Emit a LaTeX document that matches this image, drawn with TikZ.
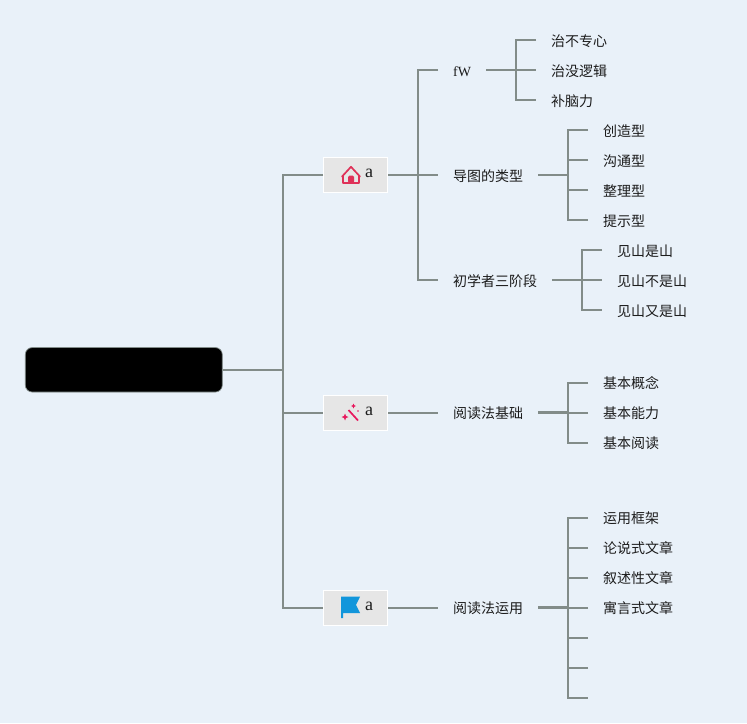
\documentclass[tikz,border=0pt]{standalone}
\usepackage{fontspec}
\setmainfont{Liberation Serif}
\newfontfamily\cjkfont{Noto Sans CJK SC}[Scale=1]
\definecolor{bgc}{HTML}{E9F1F9}
\definecolor{linec}{HTML}{828C89}
\definecolor{boxc}{HTML}{E6E6E6}
\definecolor{inkc}{HTML}{1C1C1C}
\definecolor{housec}{HTML}{DF3158}
\definecolor{wandc}{HTML}{E8175D}
\definecolor{flagc}{HTML}{1296DB}
\tikzset{
  conn/.style={draw=linec,line width=2pt},
  rootbox/.style={draw=linec,line width=0.7pt,fill=black,rounded corners=7pt,minimum width=197pt,minimum height=44.5pt,inner sep=0pt},
  branchbox/.style={draw=white,line width=1pt,fill=boxc,minimum width=64pt,minimum height=35pt,inner sep=0pt},
  lbl/.style={anchor=west,inner xsep=15pt,inner ysep=0pt,text=inkc,font=\cjkfont\fontsize{14pt}{14pt}\selectfont,text height=12pt,text depth=0pt},
  latin/.style={lbl,font=\rmfamily\fontsize{14pt}{14pt}\selectfont},
  alabel/.style={inner sep=0pt,text=inkc,font=\rmfamily\fontsize{18pt}{18pt}\selectfont},
}
\begin{document}
\begin{tikzpicture}[x=1pt,y=-1pt]
\useasboundingbox[fill=bgc] (0,0) rectangle (747,723);
% nodes
\node[rootbox] (root) at (123.8,369.8) {};
\node[branchbox] (b1) at (355.5,175) {};
\node[branchbox] (b2) at (355.5,412.5) {};
\node[branchbox] (b3) at (355.5,607.5) {};
\node[alabel] (a1) at (369,173) {a};
\node[alabel] (a2) at (369,411.5) {a};
\node[alabel] (a3) at (369,606.5) {a};
\coordinate (spine) at (283,369.8);
\coordinate (bus1) at (418,175);
\node[latin] (fw) at (438,70) {fW};
\node[lbl] (types) at (438,175) {导图的类型};
\node[lbl] (stages) at (438,280) {初学者三阶段};
\node[lbl] (basic) at (438,412.5) {阅读法基础};
\node[lbl] (use) at (438,607.5) {阅读法运用};
\coordinate (busa) at (516,70);
\coordinate (busb) at (568,175);
\coordinate (busc) at (582,280);
\coordinate (busd) at (568,412.5);
\coordinate (buse) at (568,607.5);
\node[lbl] (a1x) at (536,40) {治不专心};
\node[lbl] (a2x) at (536,70) {治没逻辑};
\node[lbl] (a3x) at (536,100) {补脑力};
\node[lbl] (t1) at (588,130) {创造型};
\node[lbl] (t2) at (588,160) {沟通型};
\node[lbl] (t3) at (588,190) {整理型};
\node[lbl] (t4) at (588,220) {提示型};
\node[lbl] (s1) at (602,250) {见山是山};
\node[lbl] (s2) at (602,280) {见山不是山};
\node[lbl] (s3) at (602,310) {见山又是山};
\node[lbl] (d1) at (588,382.5) {基本概念};
\node[lbl] (d2) at (588,412.5) {基本能力};
\node[lbl] (d3) at (588,442.5) {基本阅读};
\node[lbl] (e1) at (588,517.5) {运用框架};
\node[lbl] (e2) at (588,547.5) {论说式文章};
\node[lbl] (e3) at (588,577.5) {叙述性文章};
\node[lbl] (e4) at (588,607.5) {寓言式文章};
\coordinate (e5) at (588,637.5);
\coordinate (e6) at (588,667.5);
\coordinate (e7) at (588,697.5);
% connectors
\draw[conn] (root.east) -- (spine);
\draw[conn] (b1.west) -| (spine) |- (b3.west);
\draw[conn] (spine) |- (b2.west);
\draw[conn] (b1.east) -- (types.west);
\draw[conn] (fw.west) -| (bus1) |- (stages.west);
\draw[conn] (b2.east) -- (basic.west);
\draw[conn] (b3.east) -- (use.west);
\draw[conn] (fw.east) -- (busa);
\draw[conn] (a1x.west) -| (busa) |- (a3x.west);
\draw[conn] (busa) -- (a2x.west);
\draw[conn] (types.east) -- (busb);
\draw[conn] (t1.west) -| (busb) |- (t4.west);
\draw[conn] (t2.west) -- (t2.west -| busb);
\draw[conn] (t3.west) -- (t3.west -| busb);
\draw[conn] (stages.east) -- (busc);
\draw[conn] (s1.west) -| (busc) |- (s3.west);
\draw[conn] (busc) -- (s2.west);
\draw[conn,line width=2.6pt] (basic.east) -- (busd);
\draw[conn] (d1.west) -| (busd) |- (d3.west);
\draw[conn] (d2.west) -- (d2.west -| busd);
\draw[conn,line width=2.6pt] (use.east) -- (buse);
\draw[conn] (e1.west) -| (buse) |- (e7);
\foreach \n in {e2,e3,e4}{\draw[conn] (\n.west) -- (\n.west -| buse);}
\foreach \n in {e5,e6}{\draw[conn] (\n) -- (\n -| buse);}
% house icon
\draw[housec,line width=1.7pt,line join=round]
  (343,183) -- (343,175.5) -- (351,166.8) -- (359,175.5) -- (359,183) -- cycle;
\draw[housec,line width=1.7pt,line cap=round] (342,176.5) -- (343,175.5);
\draw[housec,line width=1.7pt,line cap=round] (360,176.5) -- (359,175.5);
\fill[housec,rounded corners=1.5pt] (348,183) -- (348,175.5) -- (354,175.5) -- (354,183) -- cycle;
% wand icon
\draw[wandc,line width=1.7pt] (348.5,410) -- (358,420.5);
\fill[wandc] (353.5,403.5) -- (354.3,405.2) -- (356,406) -- (354.3,406.8) -- (353.5,408.5) -- (352.7,406.8) -- (351,406) -- (352.7,405.2) -- cycle;
\fill[wandc] (345,413.5) -- (346,416) -- (348.5,417) -- (346,418) -- (345,420.5) -- (344,418) -- (341.5,417) -- (344,416) -- cycle;
\fill[wandc] (358,411) circle (0.8pt);
% flag icon
\fill[flagc] (341,596.7) -- (360,596.7) -- (356,605) -- (360,613) -- (343,613) -- (343,618) -- (341,618) -- cycle;
\end{tikzpicture}
\end{document}
